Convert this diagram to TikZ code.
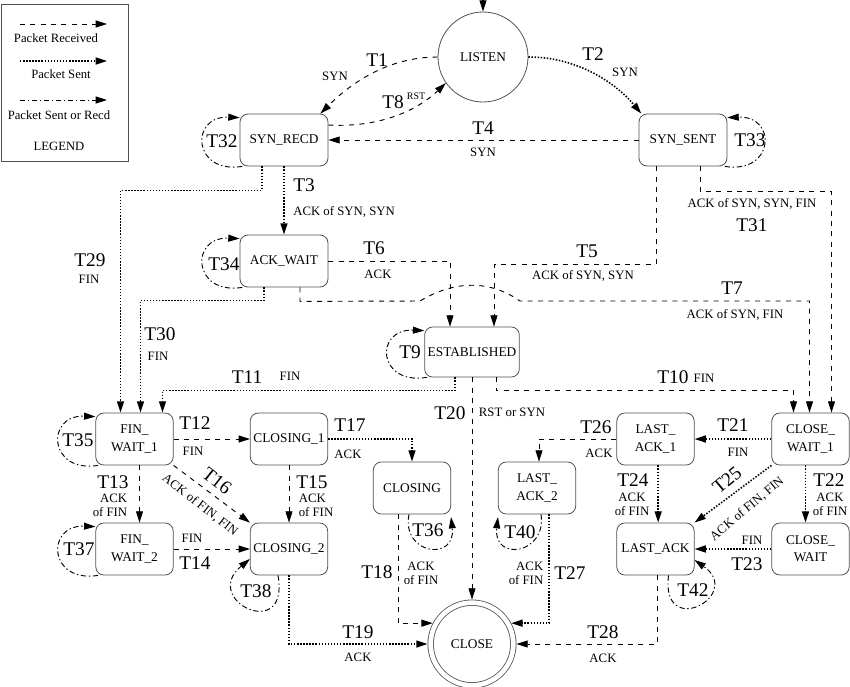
\documentclass[tikz,border=0pt]{standalone}
\usepackage{fontspec}
\setmainfont{Liberation Serif}
\usepackage{tikz}
\usetikzlibrary{arrows.meta}
\definecolor{boxgray}{RGB}{80,80,80}

\begin{document}
\begin{tikzpicture}[x=0.75pt,y=-0.75pt,
  >={Triangle[length=8.5pt,width=5.25pt]},
  state/.style={draw=boxgray,line width=0.6pt,rounded corners=6pt,minimum width=58pt,minimum height=39pt,align=center,inner sep=1pt,font=\fontsize{10}{13}\selectfont},
  wide/.style={minimum width=66pt},
  tl/.style={font=\fontsize{14.5}{16}\selectfont,inner sep=0pt},
  ml/.style={font=\fontsize{9.6}{10.5}\selectfont,inner sep=0pt,align=center},
  recv/.style={->,line width=0.7pt,dash pattern=on 3.75pt off 4pt},
  sent/.style={->,line width=1.2pt,dash pattern=on 1.1pt off 1.2pt},
  either/.style={->,line width=0.7pt,dash pattern=on 4pt off 2pt on 1pt off 2pt}]
\useasboundingbox (0,0) rectangle (850,686);

% legende
\node[draw=boxgray,line width=0.6pt,minimum width=95.25pt,minimum height=117.75pt] (legend) at (64.5,82.5) {};
\coordinate (lg1a) at (20,24); \coordinate (lg1b) at (107,24);
\coordinate (lg2a) at (20,61); \coordinate (lg2b) at (107,61);
\coordinate (lg3a) at (20,100); \coordinate (lg3b) at (107,100);
\draw[recv] (lg1a) -- (lg1b);
\draw[sent] (lg2a) -- (lg2b);
\draw[either] (lg3a) -- (lg3b);
\node[font=\fontsize{9.5}{11}\selectfont] (lgrecv) at (56,38) {Packet Received};
\node[font=\fontsize{9.5}{11}\selectfont] (lgsent) at (61,74) {Packet Sent};
\node[font=\fontsize{9.5}{11}\selectfont] (lgboth) at (59,115) {Packet Sent or Recd};
\node[font=\fontsize{9.5}{11}\selectfont] (lgtitle) at (59,146) {LEGEND};

% zustaende
\node[circle,draw=boxgray,line width=0.6pt,minimum size=67.5pt,font=\fontsize{10}{13}\selectfont] (listen) at (483,57) {LISTEN};
\node[state,wide] (srecd) at (284,140) {SYN\_RECD};
\node[state,wide] (ssent) at (683,140) {SYN\_SENT};
\node[state,wide] (ackwait) at (284,261) {ACK\_WAIT};
\node[state,minimum width=71pt,minimum height=37.5pt] (estab) at (472,352) {ESTABLISHED};
\node[state] (finw1) at (134.5,439) {FIN\_\\WAIT\_1};
\node[state] (closing1) at (289,439) {CLOSING\_1};
\node[state] (closing) at (412,488) {CLOSING};
\node[state] (lack2) at (537,488) {LAST\_\\ACK\_2};
\node[state] (lack1) at (655.5,439) {LAST\_\\ACK\_1};
\node[state] (cwait1) at (810.5,439) {CLOSE\_\\WAIT\_1};
\node[state] (finw2) at (134.5,549) {FIN\_\\WAIT\_2};
\node[state] (closing2) at (289,549) {CLOSING\_2};
\node[state] (lastack) at (655.5,549) {LAST\_ACK};
\node[state] (cwait) at (810.5,549) {CLOSE\_\\WAIT};
\node[circle,draw=boxgray,double,double distance=3.5pt,line width=0.6pt,minimum size=62pt,outer sep=2.3pt,font=\fontsize{10}{13}\selectfont] (close) at (472,644) {CLOSE};

% eingang
\coordinate (entry) at (483,0);
\draw[->,line width=0.8pt] (entry) -- (listen.north);

% oberer teil
\draw[recv] (listen.west) .. controls +(-50,0) and +(30,-30) .. ([xshift=-6pt]srecd.north east);
\draw[recv] ([yshift=11.25pt]srecd.east) .. controls +(55,3) and +(-26,25) .. (listen.215);
\draw[sent] (listen.east) .. controls +(50,0) and +(-25,-30) .. ([xshift=2pt]ssent.north west);
\draw[recv] (ssent.west) -- (srecd.east);
\draw[either] ([xshift=2pt]srecd.south west) .. controls +(-50,8) and +(-50,-2) .. ([yshift=-3pt]srecd.north west);
\draw[either] ([xshift=-2pt]ssent.south east) .. controls +(50,8) and +(50,-2) .. ([yshift=-3pt]ssent.north east);
\draw[sent] (srecd.south) -- (ackwait.north);
\draw[sent] ([xshift=-16.5pt]srecd.south) -- ++(0,24) -| ([xshift=-10.5pt]finw1.north);
\draw[either] ([xshift=2pt]ackwait.south west) .. controls +(-50,8) and +(-50,-2) .. ([yshift=-3pt]ackwait.north west);
\draw[recv] (ackwait.east) -| ([xshift=-16.5pt]estab.north);
\draw[sent] ([xshift=-15pt]ackwait.south) -- ++(0,13) -| ([xshift=4.5pt]finw1.north);
\draw[recv] ([xshift=12pt]ackwait.south) -- ++(0,14) -- (420,301) .. controls (455,280) and (490,280) .. (520,301) -| ([xshift=-0.75pt]cwait1.north);
\draw[recv] ([xshift=-20.25pt]ssent.south) -- ++(0,98) -| ([xshift=16.5pt]estab.north);
\draw[recv] ([xshift=12.75pt]ssent.south) -- ++(0,25) -| ([xshift=15.75pt]cwait1.north);

% established
\draw[either] ([xshift=2pt]estab.south west) .. controls +(-50,8) and +(-50,-2) .. ([yshift=-3pt]estab.north west);
\draw[sent] ([xshift=-12.75pt]estab.south) -- ++(0,13) -| ([xshift=21pt]finw1.north);
\draw[recv] ([xshift=18pt]estab.south) -- ++(0,13) -| ([xshift=-12.75pt]cwait1.north);
\draw[recv] (estab.south) -- (close.north);

% aktives schliessen
\draw[either] ([xshift=2pt]finw1.south west) .. controls +(-50,8) and +(-50,-2) .. ([yshift=-3pt]finw1.north west);
\draw[recv] (finw1.east) -- (closing1.west);
\draw[sent] (closing1.east) -| (closing.north);
\draw[recv] ([xshift=3.75pt]finw1.south) -- ([xshift=3.75pt]finw2.north);
\draw[recv] (finw1.south east) -- (closing2.north west);
\draw[recv] (closing1.south) -- (closing2.north);
\draw[either] ([xshift=2pt]finw2.south west) .. controls +(-50,8) and +(-50,-2) .. ([yshift=-3pt]finw2.north west);
\draw[recv] (finw2.east) -- (closing2.west);
\draw[either] ([xshift=-8.25pt]closing2.south) .. controls +(12,68) and +(-50,41) .. ([yshift=-7.5pt]closing2.west);
\draw[either] ([xshift=-2.25pt]closing.south) .. controls +(-8,40) and +(5,45) .. ([yshift=-2pt]closing.south east);
\draw[sent] (closing2.south) |- (close.west);
\draw[recv] ([xshift=-10.5pt]closing.south) |- (close.152);

% passives schliessen
\draw[sent] (cwait1.west) -- (lack1.east);
\draw[recv] (lack1.west) -| ([xshift=1.5pt]lack2.north);
\draw[either] ([xshift=3pt]lack2.south) .. controls +(6,40) and +(-5,45) .. ([yshift=-2pt]lack2.south west);
\draw[sent] ([xshift=9pt]lack2.south) |- (close.28);
\draw[sent] ([xshift=2pt]lack1.south) -- ([xshift=2pt]lastack.north);
\draw[sent] ([xshift=-3.75pt]cwait1.south) -- ([xshift=-3.75pt]cwait.north);
\draw[sent] (cwait1.south west) -- (lastack.north east);
\draw[sent] (cwait.west) -- (lastack.east);
\draw[either] ([xshift=9.75pt]lastack.south) .. controls +(-8,65) and +(50,35) .. ([yshift=-8.25pt]lastack.east);
\draw[recv] ([xshift=1.5pt]lastack.south) |- (close.east);

% beschriftungen
\node[tl] (t1) at (377,60) {T1};      \node[ml] (m1) at (335,76) {SYN};
\node[tl] (t8) at (393,102) {T8};     \node[ml,font=\fontsize{7.5}{9}\selectfont] (m8) at (416,96) {RST};
\node[tl] (t2) at (593,54) {T2};      \node[ml] (m2) at (625,72) {SYN};
\node[tl] (t4) at (483,128) {T4};     \node[ml] (m4) at (483,152) {SYN};
\node[tl] (t32) at (222,141) {T32};
\node[tl] (t33) at (750,140) {T33};
\node[tl] (t3) at (304,185) {T3};     \node[ml,anchor=west] (m3) at (293,212) {ACK of SYN, SYN};
\node[tl] (t29) at (90,260) {T29};    \node[ml] (m29) at (89,279) {FIN};
\node[tl] (t34) at (224,264) {T34};
\node[tl] (t6) at (374,248) {T6};     \node[ml] (m6) at (378,274) {ACK};
\node[tl] (t5) at (587,251) {T5};     \node[ml] (m5) at (583,276) {ACK of SYN, SYN};
\node[ml] (m31) at (752,204) {ACK of SYN, SYN, FIN}; \node[tl] (t31) at (752,225) {T31};
\node[tl] (t7) at (732,288) {T7};     \node[ml] (m7) at (735,315) {ACK of SYN, FIN};
\node[tl] (t30) at (160,334) {T30};   \node[ml] (m30) at (158,356) {FIN};
\node[tl] (t9) at (410,352) {T9};
\node[tl] (t11) at (247,377) {T11};   \node[ml] (m11) at (290,376) {FIN};
\node[tl] (t10) at (673,377) {T10};   \node[ml] (m10) at (704,378) {FIN};
\node[tl] (t20) at (450,413) {T20};   \node[ml] (m20) at (512,412) {RST or SYN};
\node[tl] (t35) at (78,440) {T35};
\node[tl] (t12) at (195,423) {T12};   \node[ml] (m12) at (193,451) {FIN};
\node[tl] (t17) at (350,425) {T17};   \node[ml] (m17) at (348,454) {ACK};
\node[tl] (t26) at (596,427) {T26};   \node[ml] (m26) at (599,453) {ACK};
\node[tl] (t21) at (733,425) {T21};   \node[ml] (m21) at (738,452) {FIN};
\node[tl] (t13) at (113,482) {T13};   \node[ml,align=right] (m13) at (110,505) {ACK\\of FIN};
\node[tl,rotate=-38] (t16) at (217,481) {T16};
\node[ml,rotate=-38] (m16) at (200,505) {ACK of FIN, FIN};
\node[tl] (t15) at (312,482) {T15};   \node[ml,align=left] (m15) at (316,505) {ACK\\of FIN};
\node[tl] (t24) at (633,480) {T24};   \node[ml] (m24) at (632,504) {ACK\\of FIN};
\node[tl,rotate=40] (t25) at (727,480) {T25};
\node[ml,rotate=40] (m25) at (747,509) {ACK of FIN, FIN};
\node[tl] (t22) at (829,480) {T22};   \node[ml] (m22) at (830,504) {ACK\\of FIN};
\node[tl] (t37) at (79,549) {T37};
\node[ml] (m14) at (192,538) {FIN};   \node[tl] (t14) at (195,563) {T14};
\node[tl] (t38) at (256,591) {T38};
\node[tl] (t36) at (428,530) {T36};
\node[tl] (t40) at (520,532) {T40};
\node[ml] (m23) at (752,540) {FIN};   \node[tl] (t23) at (747,564) {T23};
\node[tl] (t42) at (693,590) {T42};
\node[tl] (t18) at (377,572) {T18};   \node[ml] (m18) at (421,573) {ACK\\of FIN};
\node[tl] (t27) at (570,573) {T27};   \node[ml,align=right] (m27) at (526,573) {ACK\\of FIN};
\node[tl] (t19) at (358,632) {T19};   \node[ml] (m19) at (358,657) {ACK};
\node[tl] (t28) at (603,632) {T28};   \node[ml] (m28) at (603,658) {ACK};
\end{tikzpicture}
\end{document}
